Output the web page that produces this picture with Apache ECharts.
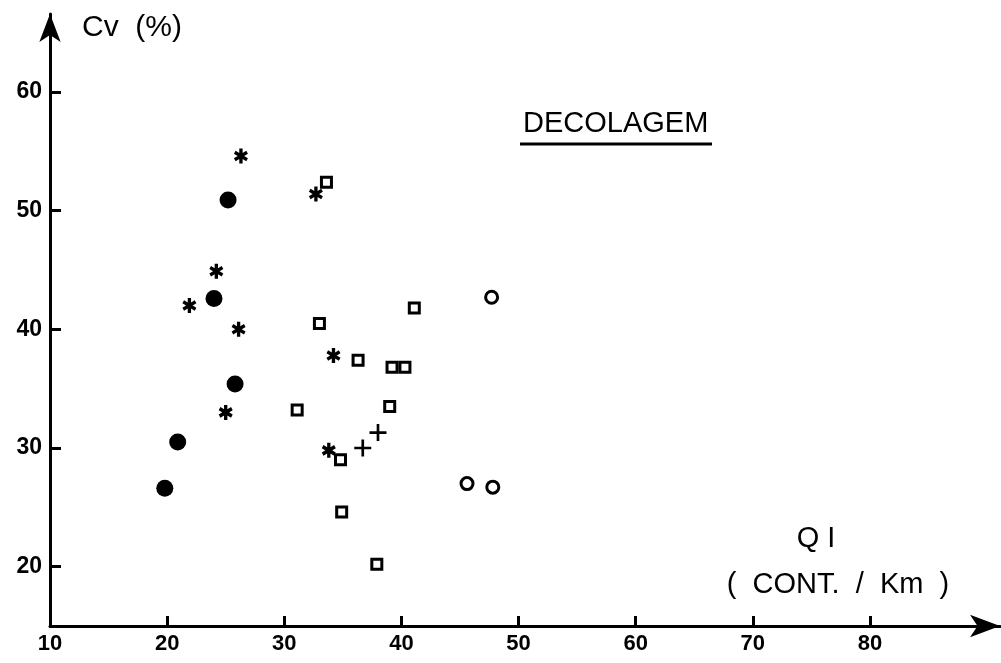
<!DOCTYPE html>
<html>
<head>
<meta charset="utf-8">
<script src="https://cdn.jsdelivr.net/npm/echarts@6/dist/echarts.min.js"></script>
<style>
  html, body { margin: 0; padding: 0; background: #fff; }
  #chart { width: 1001px; height: 663px; }
</style>
</head>
<body>
<div id="chart"></div>
<script>
// tick labels
const xTicks = [10, 20, 30, 40, 50, 60, 70, 80];
const yTicks = [20, 30, 40, 50, 60];

// filled circles
const dotX = [19.8, 20.9, 24.0, 25.2, 25.8];
const dotY = [26.6, 30.5, 42.6, 50.9, 35.4];

// asterisks
const starX = [26.3, 32.7, 24.2, 21.9, 26.1, 34.2, 25.0, 33.8];
const starY = [54.6, 51.4, 44.9, 42.0, 40.0, 37.8, 33.0, 29.8];

// open squares
const sqX = [33.6, 33.0, 41.1, 36.3, 39.2, 40.3, 31.1, 39.0, 34.8, 34.9, 37.9];
const sqY = [52.4, 40.5, 41.8, 37.4, 36.8, 36.8, 33.2, 33.5, 29.0, 24.6, 20.2];

// crosses
const plusX = [36.7, 38.0];
const plusY = [30.0, 31.3];

// open circles
const ringX = [47.7, 45.6, 47.8];
const ringY = [42.7, 27.0, 26.7];

const pairs = (xs, ys) => xs.map((x, i) => [x, ys[i]]);

// six-armed asterisk, three bars at 0 / +60 / -60 degrees
const starPath = 'path://M-1.4,-6L1.4,-6L1.4,6L-1.4,6Z' +
    'M4.496,-4.212L5.896,-1.788L-4.496,4.212L-5.896,1.788Z' +
    'M-5.896,-1.788L-4.496,-4.212L5.896,1.788L4.496,4.212Z';
const plusPath = 'path://M-1.1,-7L1.1,-7L1.1,-1.1L7,-1.1L7,1.1L1.1,1.1L1.1,7L-1.1,7L-1.1,1.1L-7,1.1L-7,-1.1L-1.1,-1.1Z';

const ink = '#000';
const font = 'Liberation Sans';

var chart = echarts.init(document.getElementById('chart'));

chart.setOption({
    animation: false,
    backgroundColor: '#fff',
    grid: { left: 50, right: 1, top: 14, bottom: 37 },
    xAxis: {
        type: 'value',
        min: 10,
        max: 91.1,
        splitLine: { show: false },
        axisLine: {
            lineStyle: { color: ink, width: 3 },
            symbol: ['none', 'arrow'],
            symbolSize: [17, 30]
        },
        axisTick: {
            inside: true,
            length: 10,
            customValues: xTicks,
            lineStyle: { color: ink, width: 3 }
        },
        axisLabel: {
            customValues: xTicks,
            margin: 7,
            color: ink,
            fontFamily: font,
            fontWeight: 'bold',
            fontSize: 22
        }
    },
    yAxis: {
        type: 'value',
        min: 15,
        max: 66.57,
        splitLine: { show: false },
        axisLine: {
            lineStyle: { color: ink, width: 3 },
            symbol: ['none', 'arrow'],
            symbolSize: [16, 28]
        },
        axisTick: {
            inside: true,
            length: 11,
            customValues: yTicks,
            lineStyle: { color: ink, width: 3 }
        },
        axisLabel: {
            customValues: yTicks,
            margin: 8,
            color: ink,
            fontFamily: font,
            fontWeight: 'bold',
            fontSize: 23
        }
    },
    graphic: [
        {
            type: 'text', left: 82, top: 13,
            style: { text: 'Cv  (%)', fill: ink, font: '30px "Liberation Sans"' }
        },
        {
            type: 'text', left: 523, top: 109,
            style: { text: 'DECOLAGEM', fill: ink, font: '29px "Liberation Sans"' }
        },
        {
            type: 'line',
            shape: { x1: 520, y1: 144, x2: 712, y2: 144 },
            style: { stroke: ink, lineWidth: 3 }
        },
        {
            type: 'text', x: 816, y: 539,
            style: { text: 'Q I', fill: ink, font: '29px "Liberation Sans"', align: 'center', verticalAlign: 'middle' }
        },
        {
            type: 'text', x: 838, y: 585,
            style: { text: '(  CONT.  /  Km  )', fill: ink, font: '29px "Liberation Sans"', align: 'center', verticalAlign: 'middle' }
        }
    ],
    series: [
        {
            type: 'scatter',
            data: pairs(dotX, dotY),
            symbol: 'circle',
            symbolSize: 17,
            itemStyle: { color: ink, opacity: 1 }
        },
        {
            type: 'scatter',
            data: pairs(starX, starY),
            symbol: starPath,
            symbolSize: [14, 15],
            itemStyle: { color: ink, opacity: 1 }
        },
        {
            type: 'scatter',
            data: pairs(sqX, sqY),
            symbol: 'rect',
            symbolSize: 10,
            itemStyle: { color: '#fff', borderColor: ink, borderWidth: 3, opacity: 1 }
        },
        {
            type: 'scatter',
            data: pairs(plusX, plusY),
            symbol: plusPath,
            symbolSize: 17,
            itemStyle: { color: ink, opacity: 1 }
        },
        {
            type: 'scatter',
            data: pairs(ringX, ringY),
            symbol: 'circle',
            symbolSize: 12,
            itemStyle: { color: '#fff', borderColor: ink, borderWidth: 3, opacity: 1 }
        }
    ]
});

window.addEventListener('resize', () => {
    if (chart) chart.resize();
});
</script>
</body>
</html>
